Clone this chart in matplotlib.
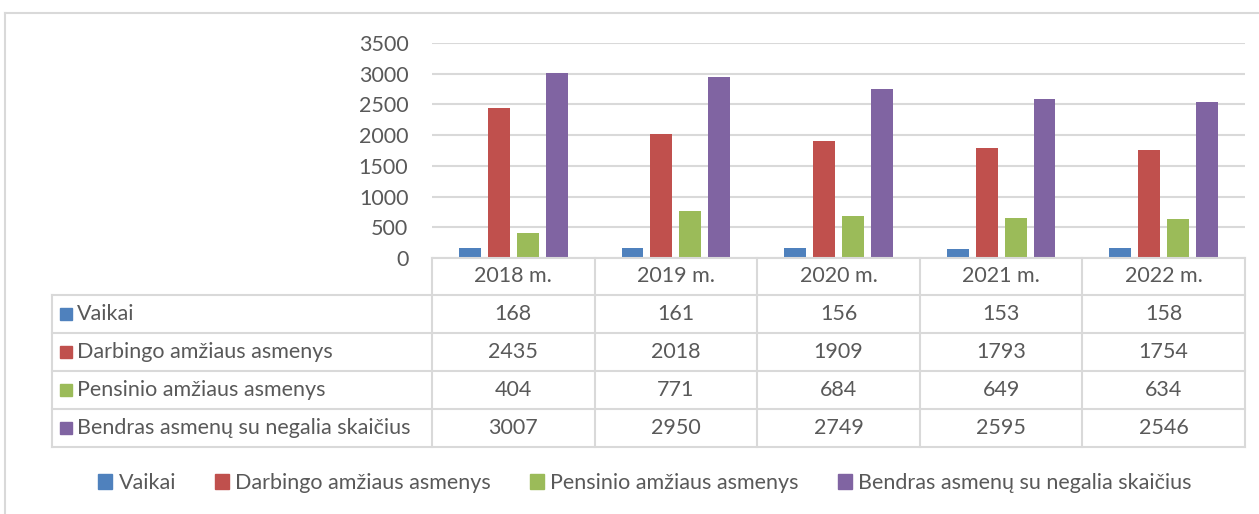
import matplotlib.pyplot as plt
from matplotlib.patches import Patch
import numpy as np

# --- Data ---
years = ["2018 m.", "2019 m.", "2020 m.", "2021 m.", "2022 m."]
series_names = ["Vaikai", "Darbingo amžiaus asmenys", "Pensinio amžiaus asmenys",
                "Bendras asmenų su negalia skaičius"]
vaikai = [168, 161, 156, 153, 158]
darbingo = [2435, 2018, 1909, 1793, 1754]
pensinio = [404, 771, 684, 649, 634]
bendras = [3007, 2950, 2749, 2595, 2546]
colors = ["#4F81BD", "#C0504D", "#9BBB59", "#8064A2"]

# --- Layout (pixels) ---
W, H = 1259, 514
TXT = "#595959"
LINE = "#D9D9D9"
FS = 15.5
plt.rcParams["font.family"] = ["Lato", "DejaVu Sans"]


def fx(px):
    return px / W


def fy(py):
    return 1 - py / H


fig = plt.figure(figsize=(W / 100, H / 100), dpi=100)

# outer chart frame (only top and left visible)
fig.add_artist(plt.Line2D([fx(5), 1], [fy(13), fy(13)], color=LINE, lw=1.5))
fig.add_artist(plt.Line2D([fx(5), fx(5)], [fy(13), 0], color=LINE, lw=1.5))

# --- Bars ---
plot_l, plot_r, plot_t, plot_b = 432, 1245, 43, 258
ax = fig.add_axes([fx(plot_l), fy(plot_b), fx(plot_r) - fx(plot_l), fy(plot_t) - fy(plot_b)])
x = np.arange(len(years))
all_series = [vaikai, darbingo, pensinio, bendras]
bw, step = 0.135, 0.178
for i, (vals, c) in enumerate(zip(all_series, colors)):
    ax.bar(x + (i - 1.5) * step, vals, width=bw, color=c, zorder=3)
ax.set_xlim(-0.5, len(years) - 0.5)
ax.set_ylim(0, 3500)
ax.set_yticks(range(0, 3501, 500))
ax.set_xticks([])
ax.grid(axis="y", color=LINE, lw=1.5, zorder=0)
for s in ax.spines.values():
    s.set_visible(False)
ax.tick_params(axis="y", length=0, pad=17, labelsize=FS, labelcolor=TXT)
ax.patch.set_alpha(0)

# --- Data table ---
px_per_cat = (plot_r - plot_l) / len(years)
tab_l, tab_b = 52, 447
x0 = -0.5 - (plot_l - tab_l) / px_per_cat
row_h = 38.1
hdr = 36.5 / row_h
tax = fig.add_axes([fx(tab_l), fy(tab_b), fx(plot_r) - fx(tab_l), fy(plot_b) - fy(tab_b)])
tax.set_xlim(x0, len(years) - 0.5)
tax.set_ylim(len(series_names), -hdr)
tax.axis("off")

lk = dict(color=LINE, lw=1.5, clip_on=False)
tax.plot([-0.5, len(years) - 0.5], [-hdr, -hdr], **lk)
for r in range(len(series_names) + 1):
    tax.plot([x0, len(years) - 0.5], [r, r], **lk)
for c in range(len(years) + 1):
    tax.plot([c - 0.5, c - 0.5], [-hdr, len(series_names)], **lk)
tax.plot([x0, x0], [0, len(series_names)], **lk)

for j, yr in enumerate(years):
    tax.text(j, -hdr / 2, yr, ha="center", va="center", fontsize=FS, color=TXT)

mark_x = x0 + 14 / px_per_cat
lab_x = x0 + 25 / px_per_cat
for r, (name, vals, c) in enumerate(zip(series_names, all_series, colors)):
    tax.plot(mark_x, r + 0.5, marker="s", ms=9, color=c, mec=c, clip_on=False)
    tax.text(lab_x, r + 0.5, name, ha="left", va="center", fontsize=FS, color=TXT)
    for j, v in enumerate(vals):
        tax.text(j, r + 0.5, str(v), ha="center", va="center", fontsize=FS, color=TXT)

# --- Legend ---
handles = [Patch(color=c, label=n) for c, n in zip(colors, series_names)]
fig.legend(handles=handles, loc="center", bbox_to_anchor=(fx(645), fy(483)), ncol=4,
           frameon=False, fontsize=FS, labelcolor=TXT, handlelength=0.65, handleheight=0.65,
           handletextpad=0.3, columnspacing=1.8)

fig.savefig("out.png", dpi=100)
